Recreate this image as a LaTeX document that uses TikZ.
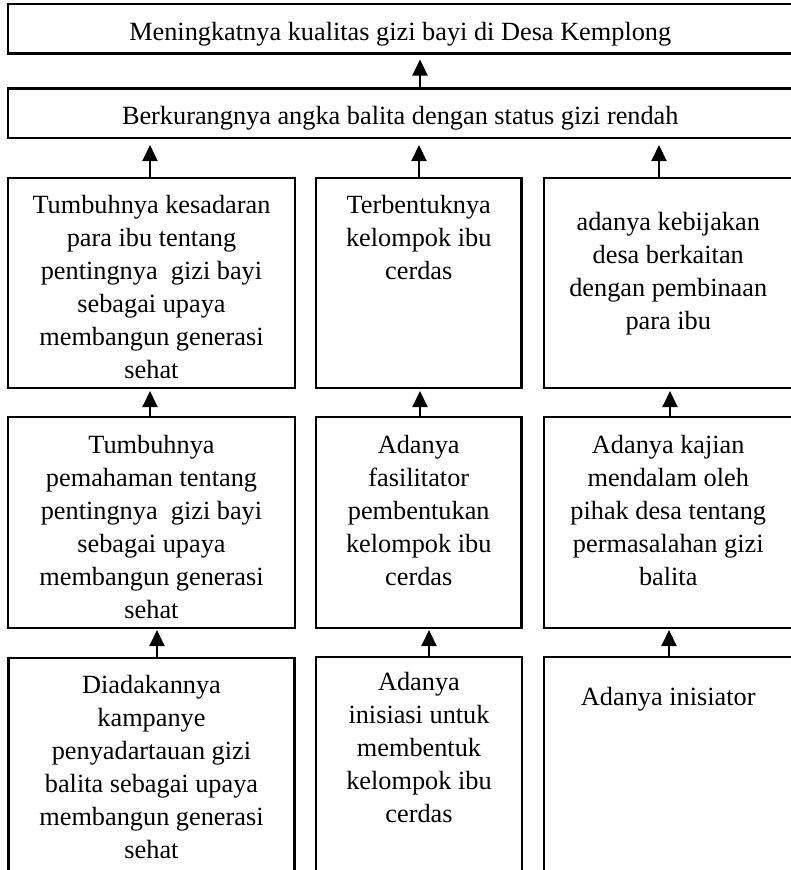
\documentclass[tikz,border=0pt]{standalone}
\usepackage{fontspec}
\setmainfont{Liberation Serif}
\usetikzlibrary{arrows.meta}
\newcommand{\bx}[4]{\parbox[t][#2][t]{#1}{\fontsize{26.3pt}{33pt}\selectfont\centering\rule{0pt}{#3}#4\par}}
\tikzset{
  cbox/.style={draw, line width=2.3pt, inner sep=0pt, outer sep=0pt, anchor=north west},
  arr/.style={line width=2pt, -{Triangle[width=15pt,length=16pt]}},
}
\begin{document}
\begin{tikzpicture}
\useasboundingbox (0,0) rectangle (791pt,-870pt);
\fill[white] (0,0) rectangle (791pt,-870pt);

% top boxes
\node[cbox] (b1) at (8pt,-4pt) {\bx{784.5pt}{49.5pt}{36pt}{Meningkatnya kualitas gizi bayi di Desa Kemplong}};
\node[cbox] (b2) at (8pt,-88.5pt) {\bx{784.5pt}{49.5pt}{35.5pt}{Berkurangnya angka balita dengan status gizi rendah}};

% row 3
\node[cbox] (r3a) at (8pt,-178pt) {\bx{287pt}{210pt}{35pt}{Tumbuhnya kesadaran\\para ibu tentang\\pentingnya~ gizi bayi\\sebagai upaya\\membangun generasi\\sehat}};
\node[cbox] (r3b) at (316pt,-178pt) {\bx{205.5pt}{210pt}{35pt}{Terbentuknya\\kelompok ibu\\cerdas}};
\node[cbox] (r3c) at (544pt,-178pt) {\bx{248.5pt}{210pt}{52pt}{adanya kebijakan\\desa berkaitan\\dengan pembinaan\\para ibu}};

% row 4
\node[cbox] (r4a) at (8pt,-417pt) {\bx{287pt}{211pt}{36pt}{Tumbuhnya\\pemahaman tentang\\pentingnya~ gizi bayi\\sebagai upaya\\membangun generasi\\sehat}};
\node[cbox] (r4b) at (316pt,-417pt) {\bx{205.5pt}{211pt}{36pt}{Adanya\\fasilitator\\pembentukan\\kelompok ibu\\cerdas}};
\node[cbox] (r4c) at (544pt,-417pt) {\bx{248.5pt}{211pt}{36pt}{Adanya kajian\\mendalam oleh\\pihak desa tentang\\permasalahan gizi\\balita}};

% row 5
\node[cbox] (r5a) at (8.5pt,-658pt) {\bx{286pt}{225pt}{35pt}{Diadakannya\\kampanye\\penyadartauan gizi\\balita sebagai upaya\\membangun generasi\\sehat}};
\node[cbox] (r5b) at (316pt,-657pt) {\bx{206pt}{225pt}{33pt}{Adanya\\inisiasi untuk\\membentuk\\kelompok ibu\\cerdas}};
\node[cbox] (r5c) at (544pt,-657pt) {\bx{248.5pt}{225pt}{48pt}{Adanya inisiator}};

% arrow x positions
\coordinate (xTop) at (420pt,0);
\coordinate (xA3) at (150pt,0);
\coordinate (xB3) at (419pt,0);
\coordinate (xC3) at (659pt,0);
\coordinate (xA4) at (150pt,0);
\coordinate (xB4) at (420pt,0);
\coordinate (xC4) at (670pt,0);
\coordinate (xA5) at (157pt,0);
\coordinate (xB5) at (429pt,0);
\coordinate (xC5) at (669pt,0);

\draw[arr, shorten >=6pt] (b2.north -| xTop) -- (b1.south -| xTop);
\draw[arr, shorten >=7pt] (r3a.north -| xA3) -- (b2.south -| xA3);
\draw[arr, shorten >=7pt] (r3b.north -| xB3) -- (b2.south -| xB3);
\draw[arr, shorten >=7pt] (r3c.north -| xC3) -- (b2.south -| xC3);
\draw[arr, shorten >=3pt] (r4a.north -| xA4) -- (r3a.south -| xA4);
\draw[arr, shorten >=3pt] (r4b.north -| xB4) -- (r3b.south -| xB4);
\draw[arr, shorten >=3pt] (r4c.north -| xC4) -- (r3c.south -| xC4);
\draw[arr, shorten >=2pt] (r5a.north -| xA5) -- (r4a.south -| xA5);
\draw[arr, shorten >=2pt] (r5b.north -| xB5) -- (r4b.south -| xB5);
\draw[arr, shorten >=2pt] (r5c.north -| xC5) -- (r4c.south -| xC5);
\end{tikzpicture}
\end{document}
